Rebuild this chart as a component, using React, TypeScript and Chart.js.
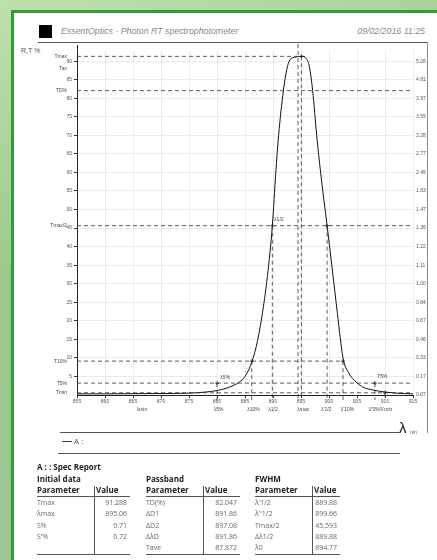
import React, { useEffect, useRef } from 'react';
import { Chart, registerables } from 'chart.js';

Chart.register(...registerables);

// ---- spectrum (wavelength nm, transmission %) ----
const wavelengths = [855, 860, 865, 870, 875, 878, 880, 882, 884, 885, 886, 887, 888, 889, 889.88, 890.5, 891, 891.86, 892.5, 893, 894, 895.06, 896, 896.5, 897.08, 897.8, 898.5, 899.66, 900.5, 901.5, 902.5, 903.5, 904.5, 906, 908, 910, 912, 915];
const transmission = [0.3, 0.3, 0.35, 0.4, 0.5, 0.8, 1.2, 2.0, 3.5, 5.0, 8.0, 13, 21, 32, 45.6, 60, 70, 82.05, 88, 90.3, 91.1, 91.29, 90.6, 88.5, 82.05, 70, 60, 45.6, 35, 22, 10, 6.0, 4.0, 2.2, 1.3, 0.8, 0.5, 0.3];

// ---- axes ----
const xTickValues = [855, 860, 865, 870, 875, 880, 885, 890, 895, 900, 905, 910, 915];
const xTickLabels = ['855', '860', '865', '870', '875', '880', '885', '890', '895', '900', '905', '910', '915'];
const yTickValues = [5, 10, 15, 20, 25, 30, 35, 40, 45, 50, 55, 60, 65, 70, 75, 80, 85, 90];
const y2TickValues = [0, 5, 10, 15, 20, 25, 30, 35, 40, 45, 50, 55, 60, 65, 70, 75, 80, 85, 90];
const y2TickLabels = ['0.07', '0.17', '0.33', '0.46', '0.67', '0.84', '1.00', '1.11', '1.22', '1.36', '1.47', '1.83', '2.49', '2.77', '3.28', '3.59', '3.97', '4.81', '5.06'];

// ---- horizontal levels ----
const levelNames = ['Tmax', 'Tav', 'TD%', 'Tmax/2', 'T10%', 'T5%', 'Tmin'];
const levelValues = [91.288, 87.872, 82.047, 45.644, 9.13, 3.2, 0.6];
const levelEnds = [896.0, 0, 915, 915, 902.5, 915, 915];

// ---- vertical markers ----
const markerLambda = [880.0, 886.2, 889.88, 894.47, 895.06, 899.66, 902.5, 908.2, 910.0];
const markerTop = [3.2, 9.13, 45.64, 95, 91.288, 45.64, 9.13, 3.2, 0.6];

// ---- notes under the axis ----
const axisNoteNames = ['λmin', 'λ5%', 'λ10%', 'λ1/2', 'λmax', "λ'1/2", "λ'10%", "λ'5%/λ'min"];
const axisNoteLambda = [866.6, 880.3, 886.5, 890.0, 895.4, 899.5, 903.3, 909.2];

// ---- notes near points ----
const pointNoteNames = ['λ5%', 'λ1/2', 'T5%'];
const pointNoteLambda = [880.6, 890.2, 908.6];
const pointNoteT = [4.0, 46.5, 4.4];

// ---- report tables ----
const initialParams = ['Tmax', 'λmax', 'S%', "S'%"];
const initialValues = ['91.288', '895.06', '0.71', '0.72'];
const passbandParams = ['TD(%)', 'ΔD1', 'ΔD2', 'ΔλD', 'Tave'];
const passbandValues = ['82.047', '891.86', '897.08', '891.86', '87.872'];
const fwhmParams = ["λ'1/2", "λ''1/2", 'Tmax/2', 'Δλ1/2', 'λ0'];
const fwhmValues = ['889.88', '899.66', '45.593', '889.88', '894.77'];

const FONT = '"Liberation Sans", Arial, sans-serif';
const TFONT = '"Open Sans", "DejaVu Sans", sans-serif';

const refPlugin = {
  id: 'refs',
  afterDatasetsDraw(chart: any) {
    const { ctx, chartArea } = chart;
    const x = chart.scales.x;
    const y = chart.scales.y;
    ctx.save();
    ctx.strokeStyle = '#222';
    ctx.lineWidth = 1;
    ctx.beginPath();
    ctx.moveTo(chartArea.left + 0.5, chartArea.top - 5);
    ctx.lineTo(chartArea.left + 0.5, chartArea.bottom + 3);
    ctx.stroke();

    ctx.setLineDash([4, 3]);
    ctx.strokeStyle = '#333';
    ctx.lineWidth = 0.8;
    levelValues.forEach((v, i) => {
      if (!levelEnds[i]) return;
      const py = y.getPixelForValue(v);
      ctx.beginPath();
      ctx.moveTo(chartArea.left, py);
      ctx.lineTo(x.getPixelForValue(levelEnds[i]), py);
      ctx.stroke();
    });
    markerLambda.forEach((l, i) => {
      const px = x.getPixelForValue(l);
      const top = Math.max(y.getPixelForValue(markerTop[i]), chartArea.top - 6);
      ctx.beginPath();
      ctx.moveTo(px, top);
      ctx.lineTo(px, chartArea.bottom + 5);
      ctx.stroke();
    });
    ctx.setLineDash([]);
    ctx.strokeStyle = '#222';
    ctx.lineWidth = 0.8;
    markerLambda.forEach((l, i) => {
      if (markerTop[i] > 92) return;
      const px = x.getPixelForValue(l);
      const py = y.getPixelForValue(markerTop[i]);
      ctx.beginPath();
      ctx.moveTo(px - 2, py);
      ctx.lineTo(px + 2, py);
      ctx.moveTo(px, py - 2);
      ctx.lineTo(px, py + 2);
      ctx.stroke();
    });

    ctx.fillStyle = '#444';
    ctx.font = `5px ${FONT}`;
    ctx.textAlign = 'right';
    ctx.textBaseline = 'middle';
    levelNames.forEach((n, i) => {
      ctx.fillText(n, chartArea.left - 10, y.getPixelForValue(levelValues[i]));
    });
    ctx.textAlign = 'center';
    ctx.textBaseline = 'top';
    axisNoteNames.forEach((n, i) => {
      ctx.fillText(n, x.getPixelForValue(axisNoteLambda[i]), chartArea.bottom + 12);
    });
    ctx.textAlign = 'left';
    ctx.textBaseline = 'bottom';
    pointNoteNames.forEach((n, i) => {
      ctx.fillText(n, x.getPixelForValue(pointNoteLambda[i]), y.getPixelForValue(pointNoteT[i]));
    });
    ctx.restore();
  },
};

function SpectrumChart() {
  const ref = useRef<HTMLCanvasElement | null>(null);
  useEffect(() => {
    if (!ref.current) return;
    const chart = new Chart(ref.current, {
      type: 'line',
      data: {
        datasets: [
          {
            data: wavelengths.map((w, i) => ({ x: w, y: transmission[i] })),
            borderColor: '#111',
            borderWidth: 1,
            pointRadius: 0,
            fill: false,
            cubicInterpolationMode: 'monotone',
          },
        ],
      },
      options: {
        animation: false,
        responsive: false,
        maintainAspectRatio: false,
        layout: { padding: { top: 6, bottom: 22, left: 0, right: 0 } },
        plugins: { legend: { display: false }, tooltip: { enabled: false } },
        scales: {
          x: {
            type: 'linear',
            min: 855,
            max: 915,
            afterBuildTicks: (s: any) => {
              s.ticks = xTickValues.map((v) => ({ value: v }));
            },
            afterFit: (s: any) => {
              s.height = 12;
            },
            ticks: {
              autoSkip: false,
              maxRotation: 0,
              padding: 1,
              color: '#555',
              font: { size: 5, family: FONT },
              callback: (v: any) => xTickLabels[xTickValues.indexOf(Number(v))] ?? '',
            },
            grid: { color: '#ebebeb', tickColor: '#333', tickLength: 3 },
            border: { color: '#222', width: 1 },
          },
          y: {
            position: 'left',
            min: 0,
            max: 93,
            afterBuildTicks: (s: any) => {
              s.ticks = yTickValues.map((v) => ({ value: v }));
            },
            afterFit: (s: any) => {
              s.width = 57;
            },
            ticks: {
              padding: 2,
              color: '#555',
              font: { size: 5, family: FONT },
            },
            grid: { color: '#ebebeb', tickColor: '#333', tickLength: 3 },
            border: { color: '#222', width: 1 },
          },
          y2: {
            position: 'right',
            min: 0,
            max: 93,
            afterBuildTicks: (s: any) => {
              s.ticks = y2TickValues.map((v) => ({ value: v }));
            },
            afterFit: (s: any) => {
              s.width = 17;
            },
            ticks: {
              padding: 3,
              color: '#555',
              font: { size: 5, family: FONT },
              callback: (v: any) => y2TickLabels[y2TickValues.indexOf(Number(v))] ?? '',
            },
            grid: { display: false, drawTicks: false, tickLength: 0 },
            border: { display: false },
          },
        },
      },
      plugins: [refPlugin],
    } as any);
    return () => chart.destroy();
  }, []);
  return (
    <canvas
      ref={ref}
      width={410}
      height={385}
      style={{ position: 'absolute', left: 20, top: 44, width: 410, height: 385 }}
    />
  );
}

function Table(props: { left: number; title: string; params: string[]; values: string[]; paramW: number; valueW: number }) {
  const { left, title, params, values, paramW, valueW } = props;
  const rowH = 11.3;
  const width = paramW + valueW;
  const bottom = 554;
  return (
    <>
      <div style={{ position: 'absolute', left, top: 473, fontFamily: TFONT, fontWeight: 700, fontSize: 8, color: '#222', lineHeight: '11px', whiteSpace: 'nowrap' }}>{title}</div>
      <div style={{ position: 'absolute', left, top: 484, width: paramW, fontFamily: TFONT, fontWeight: 700, fontSize: 8, color: '#222', lineHeight: '11px' }}>Parameter</div>
      <div style={{ position: 'absolute', left: left + paramW + 2, top: 484, fontFamily: TFONT, fontWeight: 700, fontSize: 8, color: '#222', lineHeight: '11px' }}>Value</div>
      <div style={{ position: 'absolute', left, top: 496, width, height: 1, background: '#555' }} />
      <div style={{ position: 'absolute', left, top: bottom, width, height: 1, background: '#555' }} />
      <div style={{ position: 'absolute', left: left + paramW, top: 486, width: 1, height: bottom - 486, background: '#555' }} />
      {params.map((p, i) => (
        <React.Fragment key={p + i}>
          <div style={{ position: 'absolute', left, top: 497 + i * rowH, fontFamily: TFONT, fontSize: 7, color: '#666', lineHeight: '11px', whiteSpace: 'nowrap' }}>{p}</div>
          <div style={{ position: 'absolute', left: left + paramW, width: valueW - 3, top: 497 + i * rowH, textAlign: 'right', fontFamily: TFONT, fontSize: 7, color: '#666', lineHeight: '11px' }}>{values[i]}</div>
        </React.Fragment>
      ))}
    </>
  );
}

export default function App() {
  return (
    <div style={{ position: 'absolute', left: 0, top: 0, width: 437, height: 560, overflow: 'hidden', background: 'linear-gradient(160deg, #bfe0ae 0%, #98c98a 40%, #9fc49b 100%)' }}>
      <div style={{ position: 'absolute', left: 11, top: 10, width: 426, height: 560, background: '#fff', borderLeft: '3px solid #2f9e37', borderTop: '3px solid #2f9e37' }} />
      {/* header */}
      <div style={{ position: 'absolute', left: 39, top: 25, width: 13, height: 13, background: '#000' }} />
      <div style={{ position: 'absolute', left: 61, top: 26, fontFamily: FONT, fontStyle: 'italic', fontSize: 8.8, color: '#888', lineHeight: '10px', whiteSpace: 'nowrap' }}>EssentOptics - Photon RT spectrophotometer</div>
      <div style={{ position: 'absolute', right: 437 - 425, top: 26, fontFamily: FONT, fontStyle: 'italic', fontSize: 8.8, color: '#888', lineHeight: '10px', whiteSpace: 'nowrap' }}>09/02/2016 11:25</div>
      <div style={{ position: 'absolute', left: 38, top: 42, width: 390, height: 1, background: '#555' }} />
      <div style={{ position: 'absolute', left: 427, top: 42, width: 1, height: 391, background: '#888' }} />
      <div style={{ position: 'absolute', left: 21, top: 46, fontFamily: FONT, fontSize: 7, color: '#555', lineHeight: '9px', whiteSpace: 'nowrap' }}>R,T %</div>

      <SpectrumChart />

      {/* under the chart */}
      <div style={{ position: 'absolute', left: 60, top: 432, width: 340, height: 1, background: '#555' }} />
      <div style={{ position: 'absolute', left: 399, top: 420, fontFamily: FONT, fontSize: 15, color: '#222', lineHeight: '16px' }}>λ</div>
      <div style={{ position: 'absolute', left: 410, top: 429, fontFamily: FONT, fontSize: 5, color: '#555', lineHeight: '6px' }}>nm</div>
      <div style={{ position: 'absolute', left: 62, top: 441, width: 10, height: 1, background: '#333' }} />
      <div style={{ position: 'absolute', left: 74, top: 436, fontFamily: TFONT, fontSize: 8, color: '#555', lineHeight: '10px' }}>A :</div>
      <div style={{ position: 'absolute', left: 58, top: 453, width: 342, height: 1, background: '#555' }} />

      {/* report */}
      <div style={{ position: 'absolute', left: 37, top: 461, fontFamily: TFONT, fontWeight: 700, fontSize: 8, color: '#222', lineHeight: '11px', whiteSpace: 'nowrap' }}>A : : Spec Report</div>
      <Table left={37} title="Initial data" params={initialParams} values={initialValues} paramW={57} valueW={36} />
      <Table left={146} title="Passband" params={passbandParams} values={passbandValues} paramW={57} valueW={37} />
      <Table left={255} title="FWHM" params={fwhmParams} values={fwhmValues} paramW={57} valueW={28} />
    </div>
  );
}
